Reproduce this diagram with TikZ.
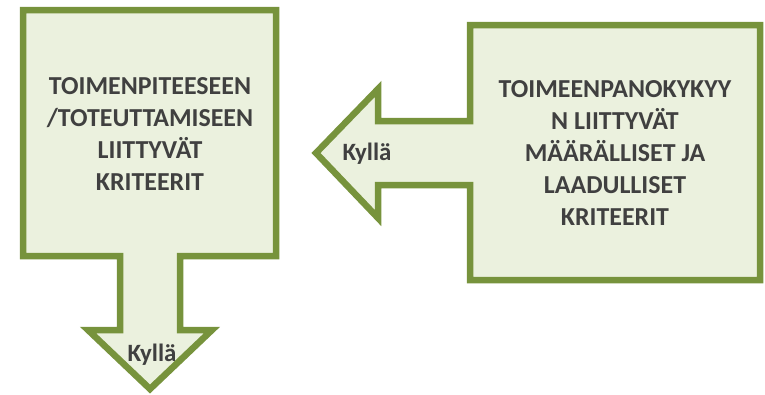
\documentclass[tikz,border=0pt]{standalone}
\usepackage{fontspec}
\setmainfont{Carlito}
\definecolor{boxfill}{HTML}{EBF1DE}
\definecolor{boxline}{HTML}{77933C}
\definecolor{txt}{HTML}{404040}
\begin{document}
\begin{tikzpicture}[x=1bp,y=-1bp,
  shapeline/.style={draw=boxline,fill=boxfill,line width=6.5bp,line join=miter},
  bigtext/.style={text=txt,font=\fontsize{26}{32}\selectfont\bfseries,align=center},
  yestext/.style={text=txt,font=\fontsize{25}{28}\selectfont\bfseries}]
\useasboundingbox (0,0) rectangle (765,394);
% left box with down arrow
\draw[shapeline] (23,10) -- (276,10) -- (276,256) -- (180,256) -- (180,330) -- (212,330)
  -- (150,389) -- (88,330) -- (120,330) -- (120,256) -- (23,256) -- cycle;
% right box with left arrow
\draw[shapeline] (470,25) -- (760,25) -- (760,280) -- (470,280) -- (470,185) -- (378,185)
  -- (378,218) -- (316,153) -- (378,89) -- (378,121) -- (470,121) -- cycle;
\node[bigtext] (left) at (150,134) {TOIMENPITEESEEN\\/TOTEUTTAMISEEN\\LIITTYVÄT\\KRITEERIT};
\node[bigtext] (right) at (615,153) {TOIMEENPANOKYKYY\\N LIITTYVÄT\\MÄÄRÄLLISET JA\\LAADULLISET\\KRITEERIT};
\node[yestext] (yes1) at (367,154) {Kyllä};
\node[yestext] (yes2) at (152,355) {Kyllä};
\end{tikzpicture}
\end{document}
